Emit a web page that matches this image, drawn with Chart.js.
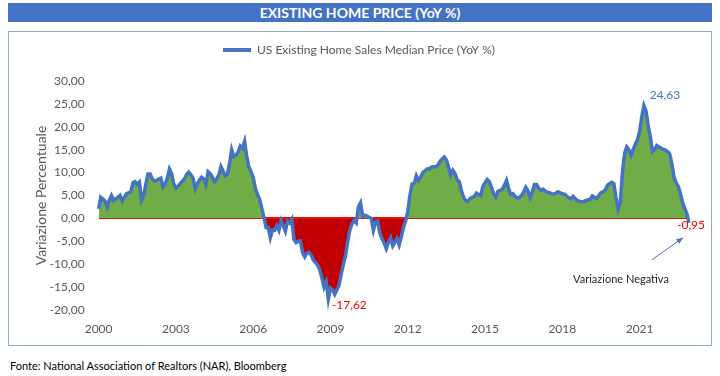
<!DOCTYPE html>
<html lang="it">
<head>
<meta charset="utf-8">
<title>Existing Home Price (YoY %)</title>
<script src="https://cdn.jsdelivr.net/npm/chart.js@4/dist/chart.umd.min.js"></script>
<style>
    body { margin: 0; width: 720px; height: 376px; background: #fff; position: relative; overflow: hidden; font-family: Lato, "Open Sans", sans-serif; }
    #bar { position: absolute; left: 8px; top: 3px; width: 704px; height: 19px; line-height: 19px; background: #4472C4; color: #fff; font-weight: bold; font-size: 14px; text-align: center; }
    #box { position: absolute; left: 8px; top: 31px; width: 702px; height: 313px; border: 1px solid #8EA9DB; }
    #src { position: absolute; left: 10px; top: 359px; font-size: 11px; color: #000; }
    #chart { position: absolute; left: 0; top: 0; }
</style>
</head>
<body>
<div id="bar">EXISTING HOME PRICE (YoY %)</div>
<div id="box"></div>
<div id="src">Fonte: National Association of Realtors (NAR), Bloomberg</div>
<canvas id="chart" width="720" height="376"></canvas>

<script>
// Dati: variazione annua mensile, gennaio 2000 - dicembre 2022
const startYear = 2000;
const seriesName = "US Existing Home Sales Median Price (YoY %)";
const yoy = [
    2.1, 4.6, 4.2, 3.8, 2.5, 4.0, 5.0, 3.9, 4.3, 4.6, 5.0, 3.8,            // 2000
    4.6, 5.4, 5.6, 5.8, 7.8, 8.0, 7.4, 7.9, 4.0, 5.0, 7.5, 9.7,            // 2001
    9.7, 8.6, 8.2, 8.3, 8.6, 8.8, 6.9, 7.5, 8.8, 10.8, 9.8, 7.5,           // 2002
    6.6, 7.0, 7.6, 8.1, 8.6, 9.6, 10.1, 9.5, 8.8, 6.5, 7.6, 8.4,           // 2003
    9.0, 8.6, 7.4, 10.2, 9.8, 9.0, 8.0, 8.6, 9.5, 11.3, 10.3, 9.3,         // 2004
    9.6, 12.0, 15.0, 13.5, 13.8, 14.5, 15.8, 15.3, 16.8, 13.5, 11.2, 10.2, // 2005
    9.0, 6.6, 5.2, 4.2, 2.2, 0.3, -2.0, -2.0, -4.2, -2.5, -2.6, -1.6,      // 2006
    -2.6, -0.5, -1.6, -2.8, -0.6, -1.0, -0.2, -4.6, -5.3, -5.0, -4.9, -7.5, // 2007
    -8.4, -7.6, -7.4, -8.0, -9.1, -9.6, -10.2, -11.2, -13.0, -15.0, -13.8, -17.62, // 2008
    -15.2, -15.6, -16.6, -15.6, -14.6, -12.2, -10.0, -8.2, -5.2, -2.6, -1.2, -0.5, // 2009
    -1.0, 2.5, 3.4, 0.4, 0.7, 0.5, 0.2, 0.0, -2.6, -0.8, -0.6, -3.2,       // 2010
    -4.4, -5.4, -6.6, -5.2, -4.2, -6.0, -5.2, -4.4, -5.8, -4.0, -2.0, -0.6, // 2011
    1.5, 5.0, 7.5, 7.6, 9.3, 8.3, 9.0, 10.0, 10.4, 10.8, 10.8, 11.2,       // 2012
    11.3, 11.3, 11.6, 12.4, 13.0, 13.4, 12.8, 11.2, 9.5, 10.5, 9.8, 8.4,   // 2013
    8.0, 6.0, 4.6, 3.9, 3.7, 4.3, 4.6, 4.8, 5.5, 5.2, 5.0, 7.0,            // 2014
    7.8, 8.5, 8.0, 6.8, 5.4, 4.6, 5.9, 6.1, 6.3, 7.2, 8.3, 6.5,            // 2015
    5.2, 5.4, 4.8, 4.4, 4.6, 5.0, 5.8, 6.8, 6.0, 4.6, 5.8, 7.4,            // 2016
    7.4, 6.6, 6.1, 6.4, 6.0, 5.7, 5.6, 5.4, 5.3, 5.5, 5.8, 5.6,            // 2017
    5.4, 5.3, 4.9, 4.5, 4.3, 4.8, 4.3, 3.9, 3.7, 3.6, 3.7, 3.9,            // 2018
    4.0, 4.2, 4.9, 4.6, 4.3, 5.0, 5.6, 5.8, 6.2, 7.2, 7.6, 7.9,            // 2019
    7.6, 4.5, 2.1, 3.5, 10.0, 14.2, 15.6, 15.0, 13.8, 15.0, 16.2, 17.2,    // 2020
    19.0, 22.2, 24.63, 23.4, 20.2, 17.8, 14.6, 15.0, 15.9, 15.6, 15.3, 15.1, // 2021
    14.9, 14.6, 14.1, 12.0, 9.0, 7.8, 7.0, 5.4, 3.5, 2.2, 1.0, -0.95       // 2022
];
const yearTicks = ["2000", "2003", "2006", "2009", "2012", "2015", "2018", "2021"];
const yMin = -20, yMax = 30, yStep = 5;
const noteText = "Variazione Negativa";

// Colori
const lineBlue = "#4472C4";
const fillGreen = "#70AD47";
const fillRed = "#C00000";
const zeroRed = "#FF0000";
const textGrey = "#595959";

// Etichette mensili (categorie)
const months = yoy.map((_, i) => `${startYear + Math.floor(i / 12)}-${String(i % 12 + 1).padStart(2, "0")}`);

const fmt = v => v.toFixed(2).replace(".", ",");

// Spazio extra sotto la legenda
const legendGap = {
    id: "legendGap",
    beforeInit(chart) {
        const fit = chart.legend.fit;
        chart.legend.fit = function () {
            fit.bind(chart.legend)();
            this.height += 15;
        };
    }
};

// Etichette valore (max, min, ultimo) e freccia
const valueLabels = {
    id: "valueLabels",
    afterDatasetsDraw(chart) {
        const { ctx, scales: { x, y } } = chart;
        const maxI = yoy.indexOf(Math.max(...yoy));
        const minI = yoy.indexOf(Math.min(...yoy));
        const lastI = yoy.length - 1;

        ctx.save();
        ctx.font = "12px Lato";
        ctx.textAlign = "center";
        ctx.textBaseline = "middle";

        ctx.fillStyle = lineBlue;
        ctx.fillText(fmt(yoy[maxI]), x.getPixelForValue(maxI) + 21, y.getPixelForValue(yoy[maxI]) - 10);

        ctx.fillStyle = zeroRed;
        ctx.fillText(fmt(yoy[minI]), x.getPixelForValue(minI) + 21, y.getPixelForValue(yoy[minI]) + 6);

        const lx = x.getPixelForValue(lastI);
        const ly = y.getPixelForValue(yoy[lastI]);
        ctx.fillText(fmt(yoy[lastI]), lx + 2, ly + 2);

        // freccia verso l'ultimo valore
        const x0 = lx - 37, y0 = ly + 37, x1 = lx - 6, y1 = ly + 15;
        const ang = Math.atan2(y1 - y0, x1 - x0);
        ctx.strokeStyle = lineBlue;
        ctx.fillStyle = lineBlue;
        ctx.lineWidth = 1;
        ctx.beginPath();
        ctx.moveTo(x0, y0);
        ctx.lineTo(x1, y1);
        ctx.stroke();
        ctx.beginPath();
        ctx.moveTo(x1, y1);
        ctx.lineTo(x1 - 7 * Math.cos(ang - 0.4), y1 - 7 * Math.sin(ang - 0.4));
        ctx.lineTo(x1 - 7 * Math.cos(ang + 0.4), y1 - 7 * Math.sin(ang + 0.4));
        ctx.closePath();
        ctx.fill();

        ctx.font = "11px Lato";
        ctx.fillStyle = "#262626";
        ctx.fillText(noteText, lx - 68, ly + 57);
        ctx.restore();
    }
};

document.addEventListener("DOMContentLoaded", () => {
    const ctx = document.getElementById("chart").getContext("2d");

    new Chart(ctx, {
        type: "line",
        data: {
            labels: months,
            datasets: [{
                label: seriesName,
                data: yoy,
                borderColor: lineBlue,
                backgroundColor: lineBlue,
                borderWidth: 3.5,
                pointRadius: 0,
                tension: 0,
                fill: { target: "origin", above: fillGreen, below: fillRed }
            }]
        },
        options: {
            responsive: false,
            animation: false,
            layout: { padding: { top: 31, left: 29, right: 31, bottom: 30 } },
            plugins: {
                tooltip: { enabled: false },
                legend: {
                    position: "top",
                    labels: {
                        color: textGrey,
                        font: { family: "Lato", size: 12 },
                        boxWidth: 28,
                        boxHeight: 4,
                        padding: 13,
                        generateLabels: chart => Chart.defaults.plugins.legend.labels.generateLabels(chart)
                            .map(l => Object.assign(l, { fillStyle: lineBlue, lineWidth: 0 }))
                    }
                }
            },
            scales: {
                x: {
                    grid: { display: false },
                    border: { display: false },
                    ticks: {
                        autoSkip: false,
                        maxRotation: 0,
                        padding: 4,
                        color: textGrey,
                        font: { family: "Lato", size: 12 },
                        callback: (value, index) => {
                            const yr = months[index].slice(0, 4);
                            return months[index].endsWith("-01") && yearTicks.includes(yr) ? yr : null;
                        }
                    },
                    afterFit: scale => { scale.height = 36; }
                },
                y: {
                    min: yMin,
                    max: yMax,
                    border: { display: false },
                    grid: {
                        drawTicks: false,
                        lineWidth: 2,
                        color: c => (c.tick && c.tick.value === 0 ? zeroRed : "rgba(0,0,0,0)")
                    },
                    ticks: {
                        stepSize: yStep,
                        padding: 14,
                        color: textGrey,
                        font: { family: "Lato", size: 12 },
                        callback: v => fmt(v)
                    },
                    title: {
                        display: true,
                        text: "Variazione Percentuale",
                        color: textGrey,
                        font: { family: "Lato", size: 14 },
                        padding: { top: 4, bottom: 4 }
                    },
                    afterFit: scale => { scale.width = 69.6; }
                }
            }
        },
        plugins: [legendGap, valueLabels]
    });
});
</script>
</body>
</html>
